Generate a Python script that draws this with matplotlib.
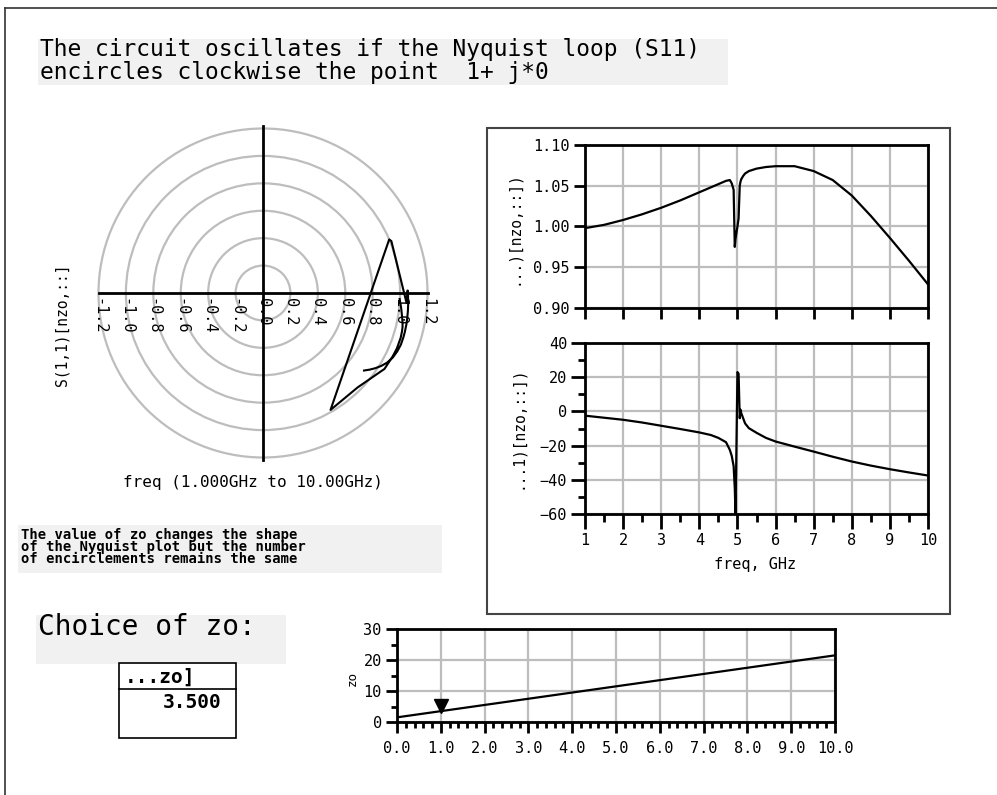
import numpy as np
import matplotlib
matplotlib.use("Agg")
import matplotlib.pyplot as plt
from matplotlib.patches import Rectangle, Circle
from matplotlib.lines import Line2D
from matplotlib.ticker import MultipleLocator, NullFormatter
from matplotlib.transforms import offset_copy

# S11 sweep read from the magnitude / phase panels
freq_ghz = [1.0, 1.5, 2.0, 2.5, 3.0, 3.5, 4.0, 4.3, 4.5, 4.7, 4.8, 4.85, 4.9, 4.93,
            4.95, 5.0, 5.03, 5.06, 5.08, 5.1, 5.15, 5.2, 5.3, 5.5, 5.75, 6.0,
            6.5, 7.0, 7.5, 8.0, 8.5, 9.0, 9.5, 10.0]
s11_mag = [0.998, 1.002, 1.008, 1.015, 1.023, 1.032, 1.042, 1.048, 1.052, 1.056,
           1.057, 1.053, 1.045, 0.975, 0.985, 1.000, 1.010, 1.050, 1.055, 1.058,
           1.062, 1.065, 1.068, 1.071, 1.073, 1.074, 1.074, 1.068, 1.057, 1.038,
           1.013, 0.986, 0.958, 0.929]
s11_phase = [-2.5, -3.7, -4.9, -6.5, -8.4, -10.3, -12.3, -13.8, -15.5, -18.0,
             -22.5, -26.0, -32.0, -45.0, -60.0, 23.0, 22.0, -4.0, 1.0, -1.0,
             -4.0, -7.0, -9.8, -12.5, -15.5, -17.6, -20.6, -23.5, -26.5, -29.3,
             -31.7, -33.8, -35.7, -37.5]

# zo sweep (index vs value) and the chosen point
zo_index = [0.0, 1.0, 2.0, 3.0, 4.0, 5.0, 6.0, 7.0, 8.0, 9.0, 10.0]
zo_values = [1.5, 3.5, 5.5, 7.5, 9.5, 11.5, 13.5, 15.5, 17.5, 19.5, 21.5]
zo_selected = 1

polar_radii = [0.2, 0.4, 0.6, 0.8, 1.0, 1.2]
polar_ticks = [-1.2, -1.0, -0.8, -0.6, -0.4, -0.2, 0.0, 0.2, 0.4, 0.6, 0.8, 1.0, 1.2]

W, H = 997, 795
MONO = ["DejaVu Sans Mono", "DejaVu Sans"]
plt.rcParams["font.family"] = MONO
GRID = "#bdbdbd"

fig = plt.figure(figsize=(W / 100, H / 100), dpi=100)


def ax_px(l, t, r, b):
    return fig.add_axes([l / W, 1 - b / H, (r - l) / W, (b - t) / H])


def text_px(x, y, s, **kw):
    return fig.text(x / W, 1 - y / H, s, **kw)


def box_px(l, t, r, b, **kw):
    rect = Rectangle((l / W, 1 - b / H), (r - l) / W, (b - t) / H,
                     transform=fig.transFigure, **kw)
    fig.patches.append(rect)


def style_axes(ax):
    for sp in ax.spines.values():
        sp.set_linewidth(2)
    ax.grid(True, which="major", color=GRID, lw=1.6)
    ax.set_axisbelow(True)
    ax.tick_params(which="major", length=8, width=2, labelsize=11, pad=3)
    ax.tick_params(which="minor", length=4, width=2)
    ax.tick_params(top=False, right=False)


# page border
fig.add_artist(Line2D([5 / W, 1], [1 - 8 / H, 1 - 8 / H], transform=fig.transFigure,
                      color="#333333", lw=1.2))
fig.add_artist(Line2D([5 / W, 5 / W], [0, 1 - 8 / H], transform=fig.transFigure,
                      color="#333333", lw=1.2))

# title
box_px(38, 39, 728, 85, facecolor="#f1f1f1", edgecolor="none")
text_px(40, 56, "The circuit oscillates if the Nyquist loop (S11)", fontsize=16.5,
        va="baseline")
text_px(40, 79, "encircles clockwise the point  1+ j*0", fontsize=16.5, va="baseline")

# Nyquist (polar) plot
R = 170
axp = ax_px(263 - R, 293 - R, 263 + R, 293 + R)
lim = 1.2 * R / 164.5
axp.set_xlim(-lim, lim)
axp.set_ylim(-lim, lim)
axp.set_aspect("equal")
axp.axis("off")
for r in polar_radii:
    axp.add_patch(Circle((0, 0), r, fill=False, edgecolor=GRID, lw=1.6))
axp.plot([-1.2, 1.2], [0, 0], color="black", lw=2)
axp.plot([0, 0], [-1.22, 1.22], color="black", lw=2)
for v in polar_ticks:
    axp.text(v, -0.035, f"{v:.1f}".replace("-0.0", "0.0"), rotation=270,
             ha="center", va="top", fontsize=11)
ph = np.radians(s11_phase)
axp.plot(np.array(s11_mag) * np.cos(ph), np.array(s11_mag) * np.sin(ph),
         color="black", lw=1.5)
text_px(62, 325, "S(1,1)[nzo,::]", rotation=90, ha="center", va="center", fontsize=10.5)
text_px(253, 482, "freq (1.000GHz to 10.00GHz)", ha="center", va="center", fontsize=11.5)

# note
box_px(18, 525, 442, 573, facecolor="#f1f1f1", edgecolor="none")
note = ["The value of zo changes the shape",
        "of the Nyquist plot but the number",
        "of encirclements remains the same"]
text_px(21, 528, "\n".join(note), fontsize=10, va="top", fontweight="bold",
        linespacing=0.82)

# right panel frame
box_px(487, 128, 950, 614, facecolor="none", edgecolor="#444444", lw=1.5)

# magnitude
axm = ax_px(585, 145, 928, 308)
axm.plot(freq_ghz, s11_mag, color="black", lw=1.6)
axm.set_xlim(1, 10)
axm.set_ylim(0.90, 1.10)
axm.xaxis.set_major_locator(MultipleLocator(1))
axm.yaxis.set_major_locator(MultipleLocator(0.05))
axm.xaxis.set_major_formatter(NullFormatter())
axm.yaxis.set_major_formatter(plt.FuncFormatter(lambda v, p: f"{v:.2f}"))
style_axes(axm)
text_px(513, 228, "...)[nzo,::])", rotation=90, ha="center", va="center", fontsize=10.5)

# phase
axa = ax_px(585, 343, 928, 514)
axa.plot(freq_ghz, s11_phase, color="black", lw=1.6)
axa.set_xlim(1, 10)
axa.set_ylim(-60, 40)
axa.xaxis.set_major_locator(MultipleLocator(1))
axa.xaxis.set_minor_locator(MultipleLocator(0.5))
axa.yaxis.set_major_locator(MultipleLocator(20))
axa.yaxis.set_minor_locator(MultipleLocator(10))
style_axes(axa)
axa.tick_params(axis="x", which="major", length=11)
axa.tick_params(axis="x", which="minor", length=6)
axa.tick_params(axis="y", which="major", length=10)
axa.tick_params(axis="y", which="minor", length=5)
text_px(517, 428, "...1)[nzo,::])", rotation=90, ha="center", va="center", fontsize=10.5)
text_px(755, 565, "freq, GHz", ha="center", va="center", fontsize=11)

# choice of zo
box_px(36, 615, 286, 664, facecolor="#f1f1f1", edgecolor="none")
text_px(38, 635, "Choice of zo:", fontsize=20, va="baseline")
box_px(119, 663, 236, 738, facecolor="white", edgecolor="black", lw=1.2)
fig.add_artist(Line2D([119 / W, 236 / W], [1 - 689 / H, 1 - 689 / H],
                      transform=fig.transFigure, color="black", lw=1.2))
text_px(125, 683, "...zo]", fontsize=14, va="baseline", fontweight="bold")
text_px(222, 708, f"{zo_values[zo_selected]:.3f}", fontsize=14, va="baseline",
        ha="right", fontweight="bold")

# zo sweep
axz = ax_px(397, 629, 835, 722)
axz.plot(zo_index, zo_values, color="black", lw=1.6)
mk = offset_copy(axz.transData, fig=fig, x=0, y=4, units="points")
axz.plot([zo_index[zo_selected]], [zo_values[zo_selected]], marker="v", color="black",
         markersize=10, transform=mk)
axz.set_xlim(0, 10)
axz.set_ylim(0, 30)
axz.xaxis.set_major_locator(MultipleLocator(1))
axz.xaxis.set_minor_locator(MultipleLocator(0.2))
axz.yaxis.set_major_locator(MultipleLocator(10))
axz.yaxis.set_minor_locator(MultipleLocator(5))
axz.xaxis.set_major_formatter(plt.FuncFormatter(lambda v, p: f"{v:.1f}"))
style_axes(axz)
axz.tick_params(axis="x", which="major", pad=6)
text_px(352, 678, "zo", rotation=90, ha="center", va="center", fontsize=9)

fig.savefig("out.png", dpi=100, facecolor="white")
